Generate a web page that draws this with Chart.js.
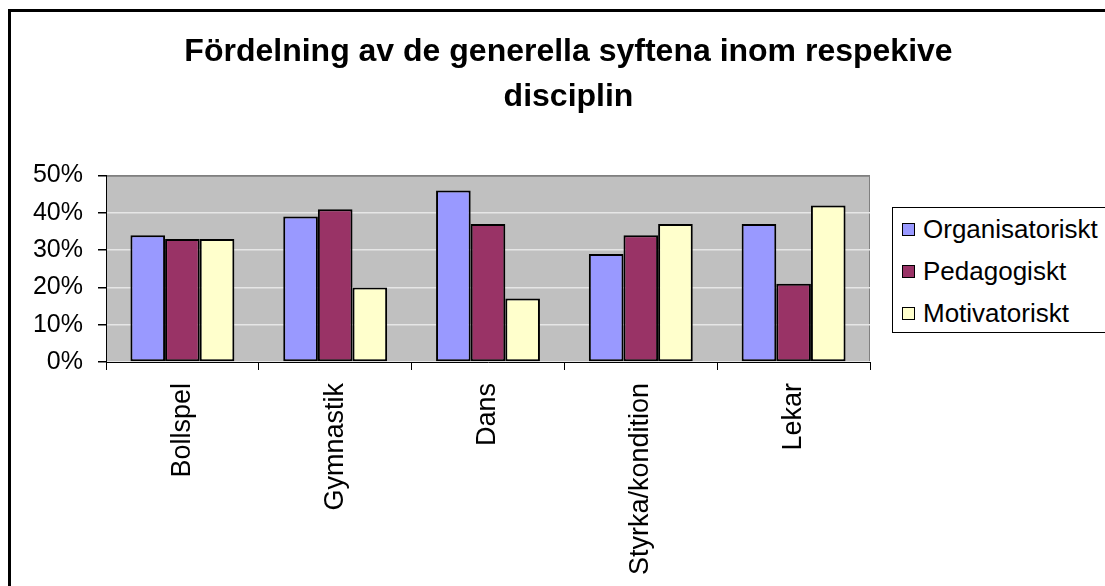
<!DOCTYPE html>
<html>
<head>
<meta charset="utf-8">
<script src="https://cdn.jsdelivr.net/npm/chart.js@4"></script>
<style>
  html, body { margin: 0; padding: 0; background: #fff; }
  #wrap { position: relative; width: 1105px; height: 586px; overflow: hidden; }
  #frame {
    position: absolute; left: 8px; top: 9px; right: -10px; bottom: -10px;
    border-left: 3px solid #000; border-top: 3px solid #000; pointer-events: none;
  }
  #legend {
    position: absolute; left: 892px; top: 207px; width: 220px; height: 126px;
    border: 1px solid #000; box-sizing: border-box; background: #fff;
    font-family: "Liberation Sans", Arial, sans-serif; font-size: 26px; color: #000;
    padding-top: 0px;
  }
  .item { height: 42px; line-height: 42px; white-space: nowrap; }
  .sw {
    display: inline-block; width: 11px; height: 11px; border: 1.5px solid #000;
    margin-left: 9px; margin-right: 8px; vertical-align: middle; position: relative; top: -2px;
  }
</style>
</head>
<body>
<div id="wrap">
  <canvas id="chart" width="1105" height="586"></canvas>
  <div id="frame"></div>
  <div id="legend"></div>
</div>
<script>
  const categories = ["Bollspel", "Gymnastik", "Dans", "Styrka/kondition", "Lekar"];
  const seriesNames = ["Organisatoriskt", "Pedagogiskt", "Motivatoriskt"];
  const organisatoriskt = [34, 39, 46, 29, 37];
  const pedagogiskt = [33, 41, 37, 34, 21];
  const motivatoriskt = [33, 20, 17, 37, 42];
  const seriesColors = ["#9999FF", "#993366", "#FFFFCC"];
  const titleLines = ["Fördelning av de generella syftena inom respekive", "disciplin"];

  const fontFamily = '"Liberation Sans", Arial, sans-serif';

  // grey plot background
  const plotBackground = {
    id: "plotBackground",
    beforeDraw(chart) {
      const a = chart.chartArea;
      const c = chart.ctx;
      c.save();
      c.fillStyle = "#C0C0C0";
      c.fillRect(a.left, a.top, a.right - a.left, a.bottom - a.top);
      c.strokeStyle = "#808080";
      c.lineWidth = 1;
      c.beginPath();
      c.moveTo(a.left, a.top + 0.5);
      c.lineTo(a.right - 0.5, a.top + 0.5);
      c.lineTo(a.right - 0.5, a.bottom);
      c.stroke();
      c.restore();
    }
  };

  const allSeries = [organisatoriskt, pedagogiskt, motivatoriskt];

  const chart = new Chart(document.getElementById("chart").getContext("2d"), {
    type: "bar",
    data: {
      labels: categories,
      datasets: allSeries.map((values, i) => ({
        label: seriesNames[i],
        data: values,
        backgroundColor: seriesColors[i],
        borderColor: "#000",
        borderWidth: 2,
        borderSkipped: false,
        categoryPercentage: 0.68,
        barPercentage: 1.0,
      })),
    },
    options: {
      responsive: false,
      animation: false,
      layout: { padding: { left: 32, right: 0, top: 0, bottom: 0 } },
      plugins: {
        legend: { display: false },
        tooltip: { enabled: false },
        title: {
          display: true,
          text: titleLines,
          color: "#000",
          font: { family: fontFamily, size: 32, weight: "bold", lineHeight: 1.4 },
          padding: { top: 30, bottom: 56 },
        },
      },
      scales: {
        x: {
          offset: true,
          grid: {
            offset: true,
            drawOnChartArea: false,
            drawTicks: true,
            tickLength: 8,
            tickColor: "#000",
          },
          border: { color: "#000", width: 1 },
          ticks: {
            color: "#000",
            font: { family: fontFamily, size: 27 },
            maxRotation: 90,
            minRotation: 90,
            padding: 13,
            autoSkip: false,
          },
          afterFit(scale) { scale.height = 224; },
        },
        y: {
          min: 0,
          max: 50,
          grid: {
            color: (ctx) => (ctx.tick && ctx.tick.value === 50 ? "#808080" : "#E6E6E6"),
            lineWidth: 1.5,
            tickLength: 8,
            tickColor: "#000",
          },
          border: { color: "#000", width: 1 },
          ticks: {
            stepSize: 10,
            color: "#000",
            font: { family: fontFamily, size: 25 },
            padding: 15,
            callback: (v) => v + "%",
          },
          afterFit(scale) { scale.width = 74; },
        },
        // empty space on the right that holds the legend
        spacer: {
          type: "linear",
          position: "right",
          display: true,
          grid: { display: false },
          border: { display: false },
          ticks: { display: false },
          afterFit(scale) { scale.width = 235; },
        },
      },
    },
    plugins: [plotBackground],
  });

  // legend built from the same series names/colours
  const legendEl = document.getElementById("legend");
  seriesNames.forEach(function (name, i) {
    const row = document.createElement("div");
    row.className = "item";
    row.innerHTML = '<span class="sw" style="background:' + seriesColors[i] + '"></span>' + name;
    legendEl.appendChild(row);
  });
</script>
</body>
</html>
